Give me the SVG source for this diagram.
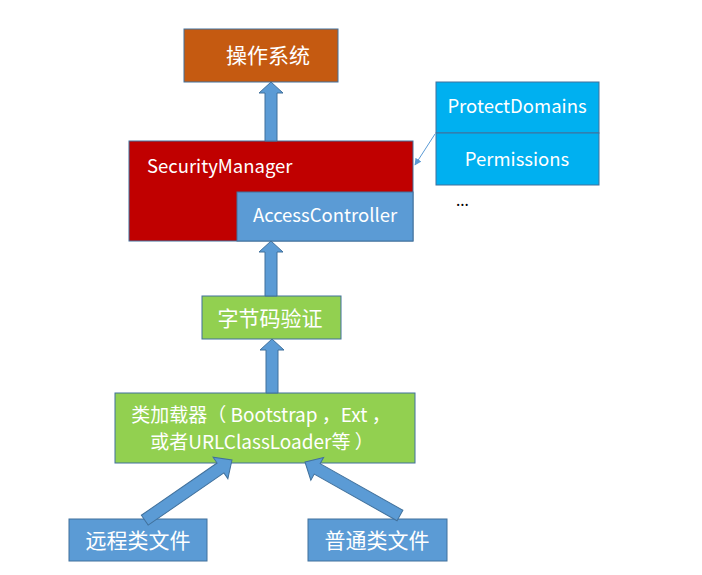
<svg xmlns="http://www.w3.org/2000/svg" width="702" height="575" viewBox="0 0 702 575">
<style>
.box{stroke:#41719C;stroke-width:1}
.t{font-family:"Noto Sans CJK SC","Noto Sans",sans-serif;fill:#ffffff}
.arr{fill:#5B9BD5;stroke:#41719C;stroke-width:1}
</style>
<defs>
<marker id="ah" viewBox="0 0 10 10" refX="9" refY="5" markerWidth="7" markerHeight="7" orient="auto">
<path d="M0,0 L10,5 L0,10 z" fill="#5B9BD5"/>
</marker>
</defs>
<rect width="702" height="575" fill="#ffffff"/>
<g id="os">
<rect class="box" x="184" y="29" width="154" height="53" fill="#C55A11"/>
<text class="t" x="268" y="63" font-size="21" text-anchor="middle">操作系统</text>
</g>
<g id="securitymanager">
<rect class="box" x="129" y="141" width="284" height="100" fill="#C00000"/>
<text class="t" x="147" y="173" font-size="18.5">SecurityManager</text>
</g>
<g id="accesscontroller">
<rect class="box" x="237" y="192" width="176" height="49" fill="#5B9BD5"/>
<text class="t" x="325" y="222" font-size="18.5" text-anchor="middle">AccessController</text>
</g>
<g id="protectdomains">
<rect class="box" x="436" y="82" width="163" height="51" fill="#00B0F0"/>
<text class="t" x="517" y="113" font-size="18.5" text-anchor="middle">ProtectDomains</text>
</g>
<g id="permissions">
<rect class="box" x="436" y="133" width="163" height="52" fill="#00B0F0"/>
<text class="t" x="517" y="166" font-size="18.5" text-anchor="middle">Permissions</text>
</g>
<g id="ellipsis">
<text x="456" y="206" font-size="16" font-family="Noto Sans, sans-serif" fill="#000000">...</text>
</g>
<g id="bytecode">
<rect class="box" x="202" y="296" width="139" height="43" fill="#92D050"/>
<text class="t" x="270" y="326" font-size="21" text-anchor="middle">字节码验证</text>
</g>
<g id="classloader">
<rect class="box" x="115" y="393" width="300" height="70" fill="#92D050"/>
<text class="t" x="261" y="422" font-size="19" text-anchor="middle">类加载器（ Bootstrap ，Ext ，</text>
<text class="t" x="262" y="449" font-size="19" text-anchor="middle">或者URLClassLoader等 ）</text>
</g>
<g id="remote">
<rect class="box" x="69" y="519" width="138" height="42" fill="#5B9BD5"/>
<text class="t" x="138" y="548" font-size="21" text-anchor="middle">远程类文件</text>
</g>
<g id="local">
<rect class="box" x="308" y="519" width="139" height="42" fill="#5B9BD5"/>
<text class="t" x="377" y="548" font-size="21" text-anchor="middle">普通类文件</text>
</g>
<g id="connectors">
<polygon class="arr" points="271,82 283,93 277,93 277,141 265,141 265,93 259,93"/>
<polygon class="arr" points="271,241 283,252 277,252 277,296 265,296 265,252 259,252"/>
<polygon class="arr" points="272,339 284,350 278,350 278,393 266,393 266,350 260,350"/>
<polygon class="arr" transform="translate(232,460) rotate(55.4)" points="0,0 13,14 6,14 6,106 -6,106 -6,14 -13,14"/>
<polygon class="arr" transform="translate(305,462) rotate(-60.6)" points="0,0 13,14 6,14 6,109 -6,109 -6,14 -13,14"/>
<line x1="435" y1="134" x2="415" y2="165" stroke="#5B9BD5" stroke-width="1" marker-end="url(#ah)"/>
</g>
</svg>
